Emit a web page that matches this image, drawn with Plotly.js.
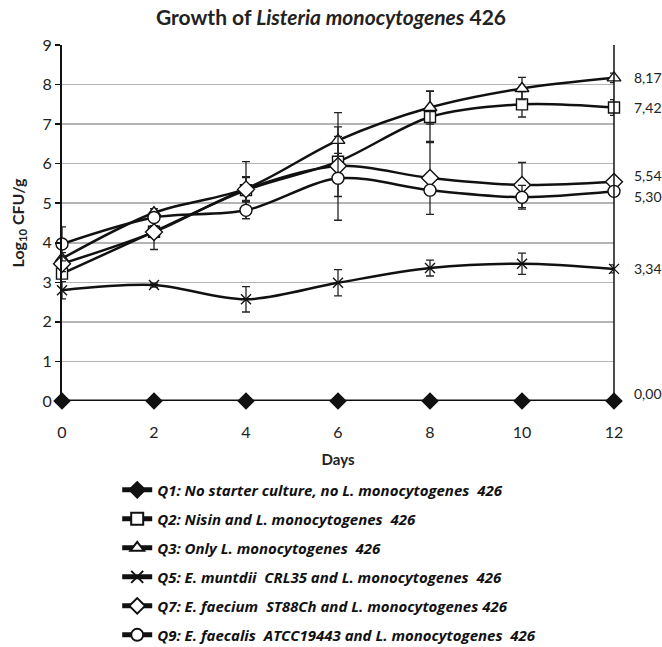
<!DOCTYPE html>
<html>
<head>
<meta charset="utf-8">
<script src="https://cdn.plot.ly/plotly-3.0.1.min.js"></script>
<style>
  html, body { margin: 0; padding: 0; background: #fff; }
  #chart { width: 662px; height: 647px; }
</style>
</head>
<body>
<div id="chart"></div>
<script>
// Sampling days
const days = [0, 2, 4, 6, 8, 10, 12];

// Log10 CFU/g means per treatment
const q1 = [0, 0, 0, 0, 0, 0, 0];
const q2 = [3.22, 4.28, 5.33, 6.05, 7.18, 7.50, 7.42];
const q3 = [3.60, 4.76, 5.37, 6.59, 7.42, 7.90, 8.17];
const q5 = [2.80, 2.93, 2.57, 2.99, 3.36, 3.47, 3.34];
const q7 = [3.47, 4.27, 5.35, 5.94, 5.64, 5.46, 5.54];
const q9 = [3.97, 4.64, 4.82, 5.63, 5.33, 5.15, 5.30];

// Standard deviations
const q2Err = [0.12, 0.15, 0.72, 0.88, 0.65, 0.32, 0.20];
const q3Err = [0.15, 0.10, 0.30, 0.70, 0.42, 0.28, 0.12];
const q5Err = [0.22, 0.05, 0.32, 0.33, 0.20, 0.27, 0.10];
const q7Err = [0.20, 0.44, 0.30, 0.32, 0.92, 0.57, 0.05];
const q9Err = [0.43, 0.10, 0.21, 1.06, 0.10, 0.30, 0.05];

const names = [
  'Q1: No starter culture, no L. monocytogenes\u00a0 426',
  'Q2: Nisin and L. monocytogenes\u00a0 426',
  'Q3: Only L. monocytogenes\u00a0 426',
  'Q5: E. muntdii\u00a0 CRL35 and L. monocytogenes\u00a0 426',
  'Q7: E. faecium\u00a0 ST88Ch and L. monocytogenes 426',
  'Q9: E. faecalis\u00a0 ATCC19443 and L. monocytogenes\u00a0 426'
];

const FONT = 'Lato, "Open Sans", sans-serif';
const LEGEND_FONT = '"Open Sans", Lato, sans-serif';

function series(i, y, err, symbol, size, fill, lineWidth) {
  const t = {
    x: days, y: y, name: names[i], legendgroup: 'g' + i,
    type: 'scatter', mode: 'lines+markers', cliponaxis: false,
    line: { color: '#111', width: lineWidth, shape: 'spline', smoothing: 0.9 },
    marker: { symbol: symbol, size: size, color: fill,
              line: { color: '#111', width: 1.4 } }
  };
  if (err) {
    t.error_y = { type: 'data', array: err, visible: true,
                  color: '#222', thickness: 1.3, width: 4 };
  }
  return t;
}

const traces = [
  series(0, q1, null, 'diamond', 12, '#111', 3),
  series(1, q2, q2Err, 'square', 11, '#fff', 2.5),
  series(2, q3, q3Err, 'triangle-up', 12, '#fff', 2.5),
  series(3, q5, q5Err, 'x-thin-open', 10, '#111', 2.5),
  series(4, q7, q7Err, 'diamond', 13, '#fff', 2.5),
  series(5, q9, q9Err, 'circle', 12, '#fff', 2.5)
];

// End-of-period value labels on the right
const endLabels = [
  { v: q3[6], dy: 0 },
  { v: q2[6], dy: 0 },
  { v: q7[6], dy: -6 },
  { v: q9[6], dy: 5 },
  { v: q5[6], dy: 0 },
  { v: q1[6], dy: -8 }
];
const annotations = endLabels.map(l => ({
  xref: 'paper', yref: 'y', x: 1, y: l.v, xanchor: 'left', yanchor: 'middle',
  xshift: 18, yshift: -l.dy, showarrow: false,
  text: l.v.toFixed(2).replace('.', ','),
  font: { family: FONT, size: 14, color: '#222' }
}));

const layout = {
  width: 662, height: 647,
  margin: { l: 62, r: 48, t: 45, b: 246, autoexpand: false },
  paper_bgcolor: '#fff', plot_bgcolor: '#fff',
  title: {
    text: 'Growth of <i>Listeria monocytogenes</i> 426',
    xref: 'container', x: 0.5, xanchor: 'center',
    yref: 'container', y: 0.972, yanchor: 'middle',
    font: { family: FONT, size: 21, weight: 'bold', color: '#222' }
  },
  xaxis: {
    range: [0, 12], tickvals: days, ticktext: days.map(String),
    showgrid: false, zeroline: false, showline: false,
    ticks: 'outside', ticklen: 17, tickcolor: 'rgba(0,0,0,0)',
    tickfont: { family: FONT, size: 16, color: '#222' },
    title: { text: 'Days', standoff: 14,
             font: { family: FONT, size: 15, weight: 'bold', color: '#222' } }
  },
  yaxis: {
    range: [0, 9], tickvals: [0,1,2,3,4,5,6,7,8,9],
    showgrid: true, gridcolor: '#b4b4b4', gridwidth: 1.5,
    zeroline: false, showline: true, linecolor: '#111', linewidth: 2,
    ticks: 'outside', ticklen: 5, tickwidth: 1.5, tickcolor: '#111',
    tickfont: { family: FONT, size: 16, color: '#222' },
    title: { text: 'Log<sub>10</sub> CFU/g', standoff: 14,
             font: { family: FONT, size: 16, weight: 'bold', color: '#222' } }
  },
  shapes: [
    { type: 'line', xref: 'paper', yref: 'paper', x0: 1, x1: 1, y0: 0, y1: 1,
      line: { color: '#111', width: 1.5 } }
  ],
  annotations: annotations,
  showlegend: true,
  legend: {
    x: 0.1, xanchor: 'left', y: -0.204, yanchor: 'top',
    traceorder: 'grouped', tracegroupgap: 6.5, itemsizing: 'constant',
    bgcolor: 'rgba(0,0,0,0)', borderwidth: 0,
    font: { family: LEGEND_FONT, size: 15, weight: 'bold', style: 'italic', color: '#111' }
  }
};

Plotly.newPlot('chart', traces, layout, { displayModeBar: false, staticPlot: true });
</script>
</body>
</html>
